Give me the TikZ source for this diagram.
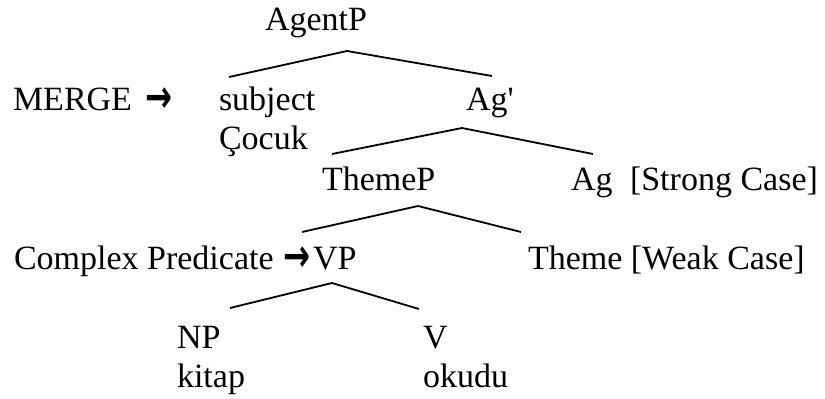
\documentclass[tikz,border=0pt]{standalone}
\usepackage{fontspec}
\setmainfont{Liberation Serif}
\newfontfamily\arrowfont{DejaVu Sans Bold}
% heavy right arrow with a tall head
\newcommand{\rarr}{\raisebox{-2.5pt}{\scalebox{0.95}[1.35]{\arrowfont →}}}
\begin{document}
\begin{tikzpicture}[x=1pt,y=-1pt,
  lbl/.style={anchor=base west,inner sep=0pt,outer sep=0pt,
    font=\fontsize{34}{40}\selectfont},
  branch/.style={line width=1.8pt,line join=miter}]
\useasboundingbox (0,0) rectangle (825,399);

% labels
\node[lbl] (agentp)  at (265,30)  {AgentP};
\node[lbl] (merge)   at (13,110)  {MERGE\hspace{14pt}\rarr};
\node[lbl] (subject) at (219,110) {subject};
\node[lbl] (cocuk)   at (219,149) {Çocuk};
\node[lbl] (agbar)   at (466,110) {Ag\textquotesingle};
\node[lbl] (themep)  at (322,190) {ThemeP};
\node[lbl] (ag)      at (571,190) {Ag};
\node[lbl] (strong)  at (630,190) {[Strong Case]};
\node[lbl] (complex) at (14,269)  {Complex Predicate\hspace{10pt}\rarr};
\node[lbl] (vp)      at (313,269) {VP};
\node[lbl] (theme)   at (528,269) {Theme [Weak Case]};
\node[lbl] (np)      at (177,348) {NP};
\node[lbl] (kitap)   at (177,387) {kitap};
\node[lbl] (v)       at (423,348) {V};
\node[lbl] (okudu)   at (423,387) {okudu};

% branch points
\coordinate (agentp-top) at (347,51);
\coordinate (agentp-l)   at (229,77);
\coordinate (agentp-r)   at (492,76);
\coordinate (agbar-top)  at (462,128);
\coordinate (agbar-l)    at (332,154);
\coordinate (agbar-r)    at (593,154);
\coordinate (themep-top) at (418,206);
\coordinate (themep-l)   at (302,232);
\coordinate (themep-r)   at (521,232);
\coordinate (vp-top)     at (332,283);
\coordinate (vp-l)       at (230,308);
\coordinate (vp-r)       at (419,309);

% branches
\draw[branch] (agentp-l) -- (agentp-top) -- (agentp-r);
\draw[branch] (agbar-l) -- (agbar-top) -- (agbar-r);
\draw[branch] (themep-l) -- (themep-top) -- (themep-r);
\draw[branch] (vp-l) -- (vp-top) -- (vp-r);
\end{tikzpicture}
\end{document}
